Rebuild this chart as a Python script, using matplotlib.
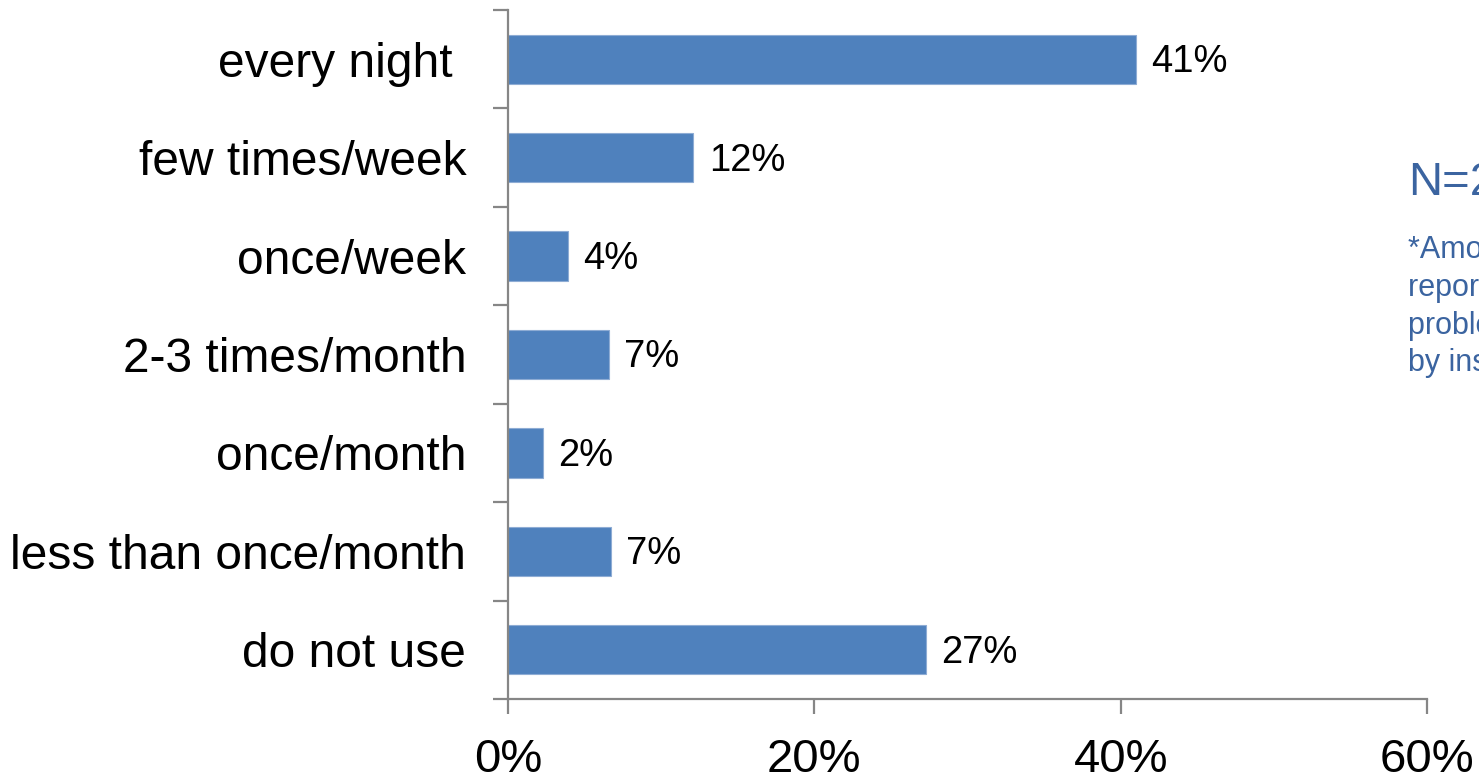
import numpy as np
import matplotlib.pyplot as plt

plt.rcParams['font.family'] = ['Liberation Sans', 'DejaVu Sans']

categories = ['every night ', 'few times/week', 'once/week', '2-3 times/month',
              'once/month', 'less than once/month', 'do not use']
values = [41.0, 12.1, 3.9, 6.6, 2.3, 6.7, 27.3]
bar_labels = ['41%', '12%', '4%', '7%', '2%', '7%', '27%']
xticks = [0, 20, 40, 60]
xtick_labels = ['0%', '20%', '40%', '60%']

bar_color = '#4F81BD'
axis_color = '#868686'
note_color = '#3B64A0'

fig = plt.figure(figsize=(14.79, 7.76), dpi=100)
ax = fig.add_axes([0.3435, 0.0992, 0.6213, 0.8879])

y = np.arange(len(categories))
ax.barh(y, values, height=0.5, color=bar_color, edgecolor='#8EACD4', linewidth=0.8)
ax.set_ylim(len(categories) - 0.5, -0.5)
ax.set_xlim(0, 60)

for yi, v, lab in zip(y, values, bar_labels):
    ax.text(v + 1.0, yi + 0.03, lab, va='center', ha='left', fontsize=27.5, color='black')

ax.set_xticks(xticks)
ax.set_xticklabels(xtick_labels, fontsize=34)
ax.set_yticks(y)
ax.set_yticklabels(categories, fontsize=34.5)
ax.set_yticks(np.arange(len(categories) + 1) - 0.5, minor=True)
ax.tick_params(axis='y', which='major', length=0, pad=30)
ax.tick_params(axis='y', which='minor', length=11, width=1.6, color=axis_color)
ax.tick_params(axis='x', length=11, width=1.6, color=axis_color, pad=17)

for s in ['top', 'right']:
    ax.spines[s].set_visible(False)
for s in ['left', 'bottom']:
    ax.spines[s].set_color(axis_color)
    ax.spines[s].set_linewidth(1.6)

fig.text(1408 / 1479, 1 - 183 / 776, 'N=236', fontsize=34, color=note_color,
         ha='left', va='center')
fig.text(1408 / 1479, 1 - 235 / 776,
         '*Among those\nreporting sleep\nproblems caused\nby insomnia',
         fontsize=22, color=note_color, ha='left', va='top', linespacing=1.34)

fig.savefig('out.png', dpi=100)
